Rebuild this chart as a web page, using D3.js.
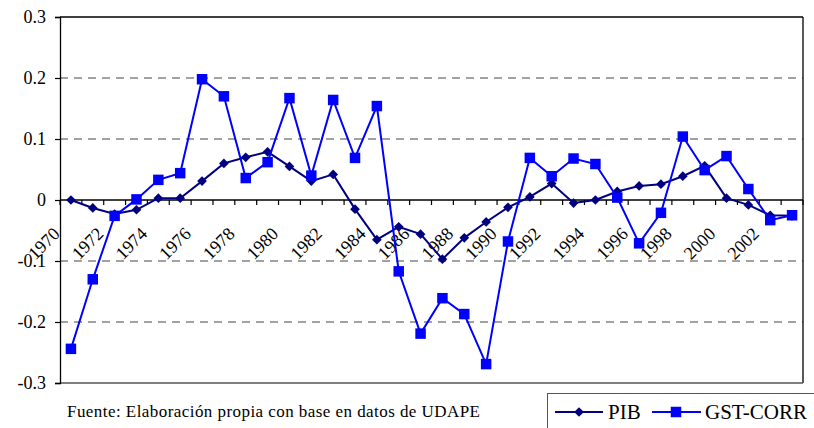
<!DOCTYPE html>
<html>
<head>
<meta charset="utf-8">
<script src="https://cdn.jsdelivr.net/npm/d3@7/dist/d3.min.js"></script>
</head>
<body style="margin:0">
<svg id="fig" width="814" height="428"></svg>
<script>
// Annual series, 1970-2003
const years = ["1970","1971","1972","1973","1974","1975","1976","1977","1978","1979",
               "1980","1981","1982","1983","1984","1985","1986","1987","1988","1989",
               "1990","1991","1992","1993","1994","1995","1996","1997","1998","1999",
               "2000","2001","2002","2003"];

const pib = [0.000, -0.013, -0.023, -0.016, 0.003, 0.003, 0.031, 0.060, 0.070, 0.079,
             0.055, 0.031, 0.042, -0.015, -0.065, -0.044, -0.056, -0.097, -0.062, -0.036,
             -0.012, 0.005, 0.027, -0.005, 0.000, 0.014, 0.023, 0.026, 0.039, 0.056,
             0.003, -0.008, -0.025, -0.026];

const gstCorr = [-0.244, -0.130, -0.026, 0.001, 0.033, 0.044, 0.198, 0.170, 0.036, 0.062,
                 0.167, 0.040, 0.164, 0.069, 0.154, -0.117, -0.219, -0.161, -0.187, -0.269,
                 -0.068, 0.069, 0.039, 0.068, 0.059, 0.004, -0.071, -0.021, 0.104, 0.049,
                 0.072, 0.018, -0.033, -0.025];

const xTickLabels = ["1970","1972","1974","1976","1978","1980","1982","1984","1986",
                     "1988","1990","1992","1994","1996","1998","2000","2002"];
const yTicks = [0.3, 0.2, 0.1, 0, -0.1, -0.2, -0.3];
const yTickLabels = ["0.3", "0.2", "0.1", "0", "-0.1", "-0.2", "-0.3"];
const gridValues = [0.2, 0.1, -0.1, -0.2];

const seriesNames = ["PIB", "GST-CORR"];
const sourceNote = "Fuente: Elaboración propia con base en datos de UDAPE";

const SERIF = "Liberation Serif";

const svg = d3.select("#fig");
const plot = { left: 60, right: 803, top: 17, bottom: 383 };

const x = d3.scaleBand().domain(years).range([plot.left, plot.right]);
const y = d3.scaleLinear().domain([-0.3, 0.3]).range([plot.bottom, plot.top]);
const cx = d => x(d) + x.bandwidth() / 2;

// dashed gridlines
svg.append("g").selectAll("line").data(gridValues).join("line")
  .attr("x1", plot.left).attr("x2", plot.right)
  .attr("y1", d => y(d)).attr("y2", d => y(d))
  .attr("stroke", "#444").attr("stroke-width", 1)
  .attr("stroke-dasharray", "8,6");

// plot frame
svg.append("line").attr("x1", plot.left).attr("x2", plot.right)
  .attr("y1", plot.top).attr("y2", plot.top).attr("stroke", "#000").attr("stroke-width", 1.3);
svg.append("line").attr("x1", plot.right).attr("x2", plot.right)
  .attr("y1", plot.top).attr("y2", plot.bottom).attr("stroke", "#000").attr("stroke-width", 1.3);
svg.append("line").attr("x1", plot.left).attr("x2", plot.right)
  .attr("y1", plot.bottom).attr("y2", plot.bottom).attr("stroke", "#555").attr("stroke-width", 1.3);

// value axis: lines from d3.axisLeft, labels as plain text
const yAxis = d3.axisLeft(y).tickValues(yTicks).tickSize(5).tickFormat("");
const yg = svg.append("g").attr("transform", `translate(${plot.left},0)`).call(yAxis);
yg.select(".domain").attr("stroke", "#000").attr("stroke-width", 1.3);
yg.selectAll(".tick line").attr("stroke", "#000").attr("stroke-width", 1.2);

svg.append("g").selectAll("text").data(yTicks).join("text")
  .attr("x", plot.left - 14).attr("y", d => y(d) + 6)
  .attr("text-anchor", "end")
  .attr("font-family", SERIF).attr("font-size", 18).attr("fill", "#000")
  .text((d, i) => yTickLabels[i]);

// category axis along zero, ticks between categories
const zeroY = y(0);
svg.append("line").attr("x1", plot.left).attr("x2", plot.right)
  .attr("y1", zeroY).attr("y2", zeroY).attr("stroke", "#000").attr("stroke-width", 1.3);
const boundaries = years.map(d => x(d)).concat([x.range()[1]]);
svg.append("g").selectAll("line").data(boundaries).join("line")
  .attr("x1", d => d).attr("x2", d => d)
  .attr("y1", zeroY).attr("y2", zeroY + 5)
  .attr("stroke", "#000").attr("stroke-width", 1.2);

svg.append("g").selectAll("text").data(xTickLabels).join("text")
  .attr("transform", d => `translate(${cx(d) - 10},${zeroY + 35}) rotate(-45)`)
  .attr("text-anchor", "end")
  .attr("font-family", SERIF).attr("font-size", 18).attr("fill", "#000")
  .text(d => d);

// series
const line = d3.line().x((d, i) => cx(years[i])).y(d => y(d));
const diamond = d3.symbol().type(d3.symbolDiamond2).size(60);
const square = d3.symbol().type(d3.symbolSquare).size(110);

svg.append("path").datum(pib).attr("d", line)
  .attr("fill", "none").attr("stroke", "#000080").attr("stroke-width", 2);
svg.append("g").selectAll("path").data(pib).join("path")
  .attr("transform", (d, i) => `translate(${cx(years[i])},${y(d)})`)
  .attr("d", diamond).attr("fill", "#000080");

svg.append("path").datum(gstCorr).attr("d", line)
  .attr("fill", "none").attr("stroke", "#0000ff").attr("stroke-width", 2);
svg.append("g").selectAll("path").data(gstCorr).join("path")
  .attr("transform", (d, i) => `translate(${cx(years[i])},${y(d)})`)
  .attr("d", square).attr("fill", "#0000ff");

// source note
svg.append("text").attr("x", 67).attr("y", 417)
  .attr("font-family", SERIF).attr("font-size", 17).attr("fill", "#000")
  .attr("textLength", 413).attr("lengthAdjust", "spacing")
  .text(sourceNote);

// legend
const lg = svg.append("g");
lg.append("rect").attr("x", 547.5).attr("y", 393.5).attr("width", 300).attr("height", 60)
  .attr("fill", "#fff").attr("stroke", "#555").attr("stroke-width", 1);
lg.append("line").attr("x1", 555).attr("x2", 603).attr("y1", 412).attr("y2", 412)
  .attr("stroke", "#000080").attr("stroke-width", 2);
lg.append("path").attr("transform", "translate(579,412)").attr("d", diamond).attr("fill", "#000080");
lg.append("text").attr("x", 608).attr("y", 419)
  .attr("font-family", SERIF).attr("font-size", 21).text(seriesNames[0]);
lg.append("line").attr("x1", 652).attr("x2", 701).attr("y1", 412).attr("y2", 412)
  .attr("stroke", "#0000ff").attr("stroke-width", 2);
lg.append("path").attr("transform", "translate(676,412)").attr("d", square).attr("fill", "#0000ff");
lg.append("text").attr("x", 705).attr("y", 419)
  .attr("font-family", SERIF).attr("font-size", 21).text(seriesNames[1]);
</script>
</body>
</html>
